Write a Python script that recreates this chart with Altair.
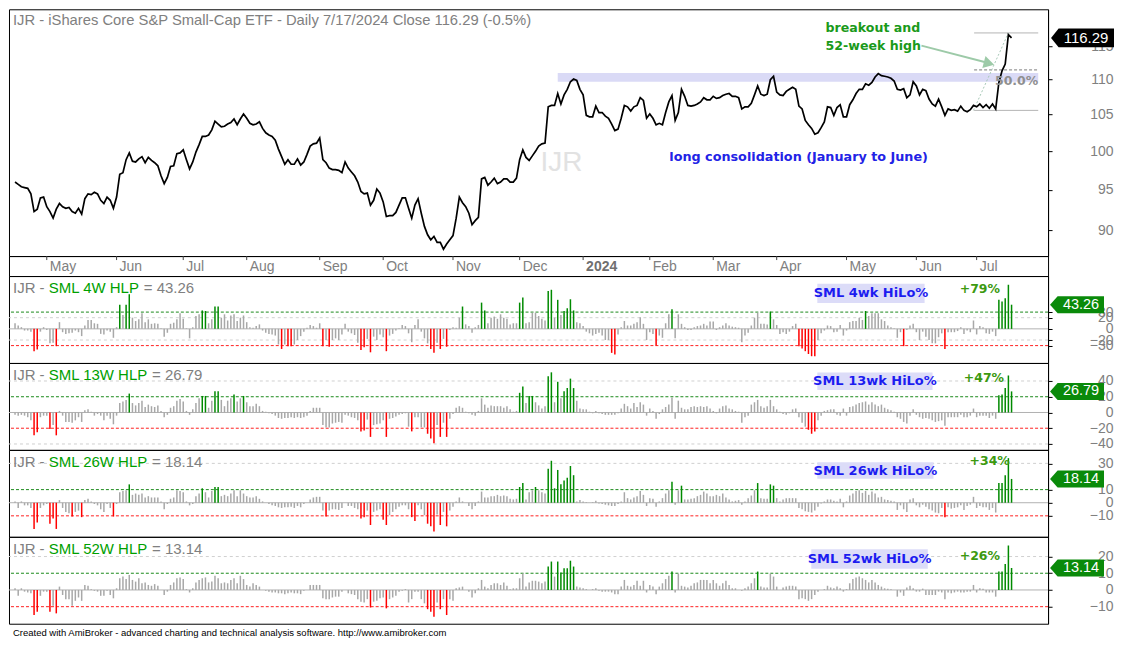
import altair as alt
import pandas as pd

FONT = "Liberation Sans"
BFONT = "DejaVu Sans"
W = 1040
H_PRICE = 247
H_DATE = 20
H_IND = 87
X_DOMAIN = [-1.9, 325.5]

title_text = "IJR - iShares Core S&P Small-Cap ETF - Daily 7/17/2024 Close 116.29 (-0.5%)"
footer_text = "Created with AmiBroker - advanced charting and technical analysis software. http://www.amibroker.com"

# trading-day index of each month start and its label
month_idx = [10, 32, 53, 73, 96, 116, 138, 159, 179, 200, 220, 240, 262, 284, 303]
month_lbl = ["May", "Jun", "Jul", "Aug", "Sep", "Oct", "Nov", "Dec", "2024",
             "Feb", "Mar", "Apr", "May", "Jun", "Jul"]

# daily close, 2023-04-17 .. 2024-07-17 (one line per month)
price = [
    96.0, 95.7, 95.4, 95.3, 95.2, 94.5, 92.3, 92.6, 94.0, 94.1,
    92.9, 92.3, 91.5, 92.6, 93.3, 92.9, 92.7, 92.8, 92.3, 92.1, 92.7, 92.0, 93.9, 94.5, 94.4, 94.7, 94.5, 93.7, 93.3, 94.1, 93.7, 92.7,
    94.1, 97.0, 97.2, 98.9, 99.8, 98.7, 98.6, 99.0, 99.3, 98.5, 99.2, 98.8, 98.5, 98.1, 96.8, 95.8, 96.6, 98.0, 98.1, 99.7, 99.8,
    100.2, 98.9, 97.7, 98.6, 99.9, 100.9, 102.0, 102.0, 102.2, 102.9, 104.1, 103.7, 103.3, 103.4, 103.7, 103.9, 104.4, 103.6, 104.4, 105.1,
    104.5, 103.8, 103.6, 103.7, 104.0, 103.1, 102.5, 102.2, 102.0, 101.5, 100.3, 99.3, 98.3, 98.9, 98.3, 98.3, 99.0, 98.2, 98.6, 99.6, 100.7, 101.0, 101.1,
    101.8, 98.9, 98.5, 97.8, 97.6, 97.6, 97.5, 97.2, 98.6, 97.8, 97.3, 96.8, 96.0, 94.8, 94.5, 94.6, 93.1, 93.7, 95.1, 94.6,
    93.5, 91.7, 91.8, 91.8, 92.2, 93.1, 94.0, 94.0, 92.7, 91.5, 93.1, 93.9, 92.1, 90.5, 89.5, 88.9, 89.3, 88.6, 88.6, 87.8, 88.4, 88.9,
    89.4, 91.5, 94.1, 93.4, 92.9, 92.1, 90.7, 91.2, 91.6, 96.4, 96.6, 95.6, 96.0, 96.5, 95.8, 96.0, 96.4, 96.4, 96.0, 96.0, 96.5,
    98.9, 100.2, 99.2, 98.8, 99.4, 100.0, 100.7, 101.0, 101.1, 106.1, 106.3, 106.3, 108.0, 106.5, 107.8, 108.6, 109.7, 110.1, 109.9, 108.6,
    107.8, 104.9, 104.7, 104.7, 106.2, 105.3, 105.3, 104.8, 104.5, 103.7, 102.8, 103.0, 104.5, 106.3, 106.1, 105.5, 106.1, 106.3, 107.4, 107.0, 104.5,
    105.1, 104.5, 103.6, 103.8, 103.6, 105.3, 106.8, 107.7, 104.2, 105.3, 108.6, 107.6, 106.3, 106.2, 106.3, 106.5, 106.8, 107.4, 107.1, 107.1,
    107.6, 107.3, 107.4, 107.7, 107.9, 108.0, 107.6, 107.6, 107.4, 105.8, 106.1, 106.1, 106.6, 107.8, 109.1, 107.9, 107.7, 107.9, 110.0, 110.5,
    108.2, 107.8, 107.7, 108.3, 108.6, 108.9, 108.6, 106.2, 105.8, 104.2, 103.6, 103.1, 102.3, 102.5, 103.2, 104.0, 106.1, 106.0, 104.9, 106.0, 106.4, 104.7,
    104.7, 106.4, 107.1, 108.0, 108.6, 108.6, 109.4, 109.2, 109.6, 110.4, 110.9, 110.6, 110.5, 110.4, 110.2, 109.8, 108.6, 108.5, 108.7, 107.4, 107.8, 109.7,
    109.1, 107.8, 108.6, 108.4, 107.2, 106.5, 106.2, 107.2, 106.1, 104.9, 105.8, 105.6, 105.7, 105.5, 106.2, 105.6, 105.4, 105.7, 106.3,
    106.1, 106.5, 106.0, 106.4, 105.9, 106.5, 105.8, 109.6, 111.3, 112.3, 116.8, 116.29,
]
price_ticks = [90, 95, 100, 105, 110, 115]
price_domain = [87.0, 120.8]

hlp4 = [
    10, 6, 3, -3, -3, -5, -40, -37, -5, 3,
    -2, -26, -25, -31, 12, -6, -9, -8, -7, -3, -6, -13, 6, 16, 16, 10, 9, -9, -10, -3, -5, -16,
    3, 43, 25, 43, 62, 20, 14, 17, 28, 12, 17, 9, 10, 9, 1, -14, -7, 9, 11, 17, 28,
    18, 1, -17, 3, 23, 26, 33, 32, 10, 17, 40, 40, 20, 26, 15, 24, 26, 14, 20, 24,
    12, 3, 2, 5, 8, -3, -7, -9, -10, -12, -28, -36, -28, -31, -31, -28, -20, -13, -5, 2, 7, 5, 2,
    10, -31, -20, -32, -20, -17, -20, -10, 9, -5, -8, -11, -25, -38, -33, -18, -42, -14, -20, -10,
    -15, -40, -12, -9, -3, 1, 7, 5, -8, -24, 7, 17, -5, -17, -26, -36, -43, -25, -36, -18, -32, -2,
    3, 2, 20, 40, 8, 5, -7, 3, 7, 47, 33, 10, 20, 22, 18, 26, 20, 18, 8, 10, 10,
    47, 56, 10, 12, 29, 29, 23, 18, 15, 68, 70, 20, 52, 25, 32, 37, 53, 33, 12, 10,
    5, -5, -8, -12, -9, -7, -12, -20, -20, -43, -46, -10, 3, 14, 6, 6, 9, 12, 21, 9, -20,
    -6, -9, -30, -12, -16, 10, 26, 35, -17, 26, 9, 3, -2, -2, 3, 5, 6, 9, 6, 13,
    13, -2, 3, 6, 10, 6, 4, 3, 2, -24, -12, -7, 6, 20, 29, 9, 9, 8, 31, 17,
    7, -9, -6, -9, -5, 5, 9, -31, -35, -40, -45, -49, -49, -20, -8, -3, 6, 5, -6, -5, 7, -12,
    -3, 12, 14, 14, 20, 16, 32, 23, 28, 28, 28, 17, 14, 6, 3, 1, -16, -6, -31, -2, 6, 9,
    -6, -20, -5, -14, -20, -26, -26, -15, -8, -36, -6, -6, -6, -4, 3, -9, -3, -6, 15,
    -10, 5, 3, -8, -9, -5, -13, 52, 49, 55, 79, 43.26,
]

hlp13 = [
    -3, -4, -3, -4, -6, -10, -29, -25, -6, -4,
    -4, -21, -16, -29, 2, -4, -12, -12, -13, -10, -6, -12, 3, 4, 1, -4, -2, -4, -10, -4, -8, -15,
    -4, 12, 14, 16, 24, 12, 9, 12, 15, 7, 10, 8, 7, 9, 2, -6, -3, 6, 8, 15, 17,
    14, 2, -3, 4, 12, 18, 21, 21, 6, 15, 27, 27, 16, 8, 15, 18, 23, 14, 18, 21,
    13, 8, 8, 11, 8, 2, 1, -1, -2, -4, -7, -8, -7, -7, -6, -7, -6, -7, -6, -4, 2, 6, 6,
    6, -16, -19, -19, -14, -13, -12, -13, -3, -4, -6, -7, -10, -24, -23, -9, -31, -16, -15, -14,
    -10, -31, -8, -7, -5, -3, -2, -1, -18, -24, -6, -6, -19, -19, -27, -33, -39, -16, -31, -13, -31, -8,
    -2, 6, 8, 6, 1, -1, -3, -4, 2, 18, 10, 6, 9, 8, 8, 8, 6, 8, 4, 1, 2,
    25, 33, 12, 21, 21, 13, 9, 5, 8, 46, 51, 13, 39, 18, 27, 31, 43, 31, 15, 5,
    4, 4, 1, -1, 2, -1, -2, -3, -3, -3, -3, -1, 5, 11, 8, 5, 12, 7, 13, 10, -4,
    5, 2, -8, -2, 4, 7, 10, 19, -8, 15, 6, 4, 4, 7, 8, 7, 8, 7, 8, 5,
    2, -1, 5, 8, 9, 5, 4, 2, 1, -13, -6, -4, 10, 13, 16, 8, 6, 8, 16, 8,
    4, 1, -2, -3, -1, 4, 5, -6, -13, -18, -22, -27, -24, -10, -4, 2, 3, 4, 4, -3, -4, 5,
    -4, 7, 8, 10, 12, 13, 14, 10, 13, 10, 8, 10, 6, 4, 3, 1, -6, -8, -12, -14, -4, 4,
    -3, -6, -8, -7, -8, -10, -12, -11, -10, -17, -6, -6, -6, -6, -3, -6, -6, -4, 5,
    -6, -4, -4, -4, -7, -4, -8, 22, 23, 31, 47, 26.79,
]

hlp26 = [
    1, -4, 1, -2, -2, -4, -20, -15, -4, -2,
    -1, -16, -12, -20, 2, -4, -7, -8, -10.5, -7, -6, -11, 2, 3, 1, -1, -2, -5, -7, -1, -4, -10.5,
    -1, 8, 9, 9.5, 14, 6, 7, 6, 7, 4, 5, 4, 4, 4, 1, -5, -1, 3, 4, 9.5, 9,
    8, 1, -2, -1, 5, 7, 11, 8, 4, 9, 12, 12, 5, 6, 5, 7, 9.5, 5, 9.5, 7,
    5, 4, 4, 5, 3, 1, 0, -1, -2, -2.5, -3.5, -4, -3.5, -3.5, -3, -4, -2.5, -3.5, -1, 0, 2.5, 4, 4.5,
    4.5, -6, -10.5, -6, -5, -5, -5.5, -4, 0, -2.5, -2.5, -4, -5, -12, -11, -6, -17, -7, -6, -5,
    -13, -17, -9.5, -7, -5, -3, -2, -2, -5, -11, -14, -2, -5, -9.5, -16, -18, -22, -9, -17, -7, -18, -6,
    -3, 1, 4, 1, 0, -2.5, -5, -2.5, 1, 8.5, 4, 4, 5, 5, 6, 5, 5.5, 5, 3, 2.5, 3,
    12, 15, 2.5, 8, 9.5, 12, 9.5, 8, 7, 26, 32, 11, 25, 14, 17, 19, 28, 21, 1, 2,
    1, 0.5, 0, 0.5, 1.5, -0.5, -1, -1.5, -2, -2.5, -2.5, -1, 1, 8, 3.5, 2.5, 4, 5, 9, 6, -2.5,
    3.5, 3, -3, 1, 3.5, 7, 9.5, 16, -1.5, 9.5, 13, 2.5, 2.5, 3, 3.5, 5, 6, 8.5, 7, 5,
    5, 6, 5, 7, 4, 2.5, 1, 1.5, 2, -1.5, 1, 3.5, 5.5, 9.5, 15, 3.5, 3, 3, 14, 13,
    3.5, 1, 2.5, 3.5, 3.5, 3.5, 3.5, -4, -5, -6.5, -7, -7.5, -6, -3, -0.5, 1, 2.5, 2.5, 1.5, 1, 3, -3.5,
    1, 5.5, 7, 9, 9.5, 7.5, 9, 6, 8.5, 7, 4, 4.5, 2.5, 2, 1.5, 1, -5.5, -2, -5, -7, 2.5, 3.5,
    -2, -3.5, -1.5, -3, -5, -6, -7.5, -8, -4, -11, -3.5, -4.5, -4, -3.5, -2, -5.5, -2.5, -1.5, 4.5,
    -4, -2.5, -3.5, -3.5, -5.5, -4, -7.5, 15, 15, 21, 34, 18.14,
]

hlp52 = [
    1, -3.5, 1, -1, -1.5, -2, -15, -13, -3.5, -1,
    -1, -13, -9.5, -14, 2, -3, -5.5, -5.5, -9.5, -6.5, -4.5, -6.5, 3, 2.5, 0.5, -0.5, -1, -3.5, -3.5, -0.5, -3, -5,
    1, 7, 8, 6.5, 9, 6, 5, 7, 4, 4.5, 3, 2.5, 3.5, 2.5, 0, -3, -1, 3, 4.5, 7, 7.5,
    6.5, 0.5, -1.5, 1, 4.5, 6, 7, 7.5, 4.5, 5, 8.5, 7, 4, 4.5, 4, 6, 7, 4, 8.5, 6.5,
    3, 2, 4, 3, 2, 0, -0.5, -1, -1.5, -1.5, -2, -2, -2.5, -2, -1.5, -2, -2, -2.5, -0.5, 0, 3, 3, 3,
    3, -5, -5.5, -5.5, -4.5, -4, -4, -1, 0, -2, -2.5, -3, -5.5, -7, -7.5, -5.5, -10.5, -7, -6.5, -5,
    -4.5, -11, -5.5, -4.5, -3.5, -1, -0.5, 0.5, -7.5, -5.5, -1, -1, -5.5, -8, -11.5, -13, -16, -7.5, -11.5, -5.5, -15, -5.5,
    -6.5, 1, 1.5, 2, 0, -1, -4.5, -2, 1, 6, 2, 1, 3, 4, 4, 3, 4.5, 2.5, 0.5, 1, 1,
    7, 9.8, 2, 4.5, 5.5, 5.5, 5, 4, 5, 14, 17, 8, 17, 10.5, 13, 13, 17.5, 14, 2, 1.5,
    1, 0.5, 0, 0.5, 1, -0.5, -1, -1, -1, -1.5, -2.5, -2.5, 2, 6, 2.5, 2, 3, 5.5, 2.5, 5.5, -1.5,
    3, 2, -2.5, 2, 4, 6.5, 8.5, 11, -1.5, 9.8, 2.5, 2, 1.5, 2.5, 4, 4.5, 6, 6, 6, 4,
    6, 4, 2.5, 4, 5.5, 3, 1, 1, 0, -0.5, 1, 2, 4, 7, 11, 2, 1.5, 1.5, 9.8, 8,
    2, 0, 1.5, 2, 2.5, 2.5, 2, -5.5, -5, -5.5, -6.5, -5.5, -3, -1, 0, 0.5, 2.5, 1.5, 1, 2, 1, -1,
    0.5, 4, 6.5, 7.5, 8, 7, 6, 4.5, 6, 4.5, 3, 2, 1, 0.8, 0.5, 0, -4, -1.5, -3.5, 1.5, 2.5, 1,
    -1, -1, 0.8, -3, -3, -3, -3, -1, -1.5, -5.5, -1.5, -2, -1.5, -1, -1.5, -1.5, -1, -1, 3,
    -1.5, 1, 0.8, -1.5, -1.5, -1.5, -4, 11, 11, 15.6, 26.6, 13.14,
]

GRAY_TXT = "#808080"
xscale = alt.Scale(domain=X_DOMAIN, nice=False, zero=False)


def X(field="i"):
    return alt.X(f"{field}:Q", scale=xscale, axis=None)


def right_axis(values):
    return alt.Axis(orient="right", values=values, title=None, grid=False,
                    domain=True, domainColor="#000000", domainWidth=1,
                    ticks=True, tickColor="#000000", tickSize=4, tickWidth=1,
                    labelAlign="right", labelBaseline="middle", labelPadding=61,
                    labelFont=FONT, labelFontSize=14, labelColor=GRAY_TXT,
                    labelOverlap=False, labelFlush=False, labelBound=False, format="d")


# ---------------- price panel ----------------
pscale = alt.Scale(type="log", domain=price_domain, nice=False, zero=False)
paxis = right_axis(price_ticks)


def PY(field):
    return alt.Y(f"{field}:Q", scale=pscale, axis=paxis)


price_df = pd.DataFrame({"i": list(range(len(price))), "p": price})

band = alt.Chart(pd.DataFrame({"x1": [171], "x2": [322.4], "y1": [109.7], "y2": [111.0]})).mark_rect(
    color="#dadaf6").encode(x=X("x1"), x2="x2", y=PY("y1"), y2="y2")

wm = alt.Chart(pd.DataFrame({"i": [165.6], "p": [98.5], "t": ["IJR"]})).mark_text(
    align="left", baseline="middle", fontSize=28, font=FONT, color="#e2e2e2").encode(
    x=X(), y=PY("p"), text="t:N")

fib_df = pd.DataFrame({"x1": [302.2, 302.2], "x2": [322.4, 322.4], "p": [117.06, 105.6]})
fib_solid = alt.Chart(fib_df).mark_rule(color="#b4b4b4", strokeWidth=1).encode(
    x=X("x1"), x2="x2", y=PY("p"))
fib_dash = alt.Chart(pd.DataFrame({"x1": [302.2], "x2": [322.4], "p": [111.44]})).mark_rule(
    color="#7a7a7a", strokeWidth=1, strokeDash=[3, 2]).encode(x=X("x1"), x2="x2", y=PY("p"))
diag = alt.Chart(pd.DataFrame({"x1": [302], "x2": [313], "p1": [105.6], "p2": [117.06]})).mark_rule(
    color="#a6c8b6", strokeWidth=1, strokeDash=[2, 2]).encode(x=X("x1"), x2="x2", y=PY("p1"), y2="p2")

line = alt.Chart(price_df).mark_line(color="#000000", strokeWidth=1.7).encode(x=X(), y=PY("p"))

ARROW = "#9dcaa8"
arrow = alt.Chart(pd.DataFrame({"x1": [285.6], "x2": [306.4], "p1": [115.1], "p2": [112.5]})).mark_rule(
    color=ARROW, strokeWidth=2).encode(x=X("x1"), x2="x2", y=PY("p1"), y2="p2")
head = alt.Chart(pd.DataFrame({"i": [306.9], "p": [112.42]})).mark_point(
    shape="triangle-right", angle=15, size=150, filled=True, color=ARROW, opacity=1).encode(
    x=X(), y=PY("p"))

ann = alt.Chart(pd.DataFrame({"i": [255.4, 255.4], "p": [117.87, 114.99],
                              "t": ["breakout and", "52-week high"]})).mark_text(
    align="left", baseline="middle", font=BFONT, fontSize=12.6, fontWeight="bold", color="#1a9a1a").encode(
    x=X(), y=PY("p"), text="t:N")
cons = alt.Chart(pd.DataFrame({"i": [246.9], "p": [99.2], "t": ["long consolidation (January to June)"]})).mark_text(
    align="center", baseline="middle", font=BFONT, fontSize=12.8, fontWeight="bold", color="#2222e6").encode(
    x=X(), y=PY("p"), text="t:N")
pct50 = alt.Chart(pd.DataFrame({"i": [322.4], "p": [109.86], "t": ["50.0%"]})).mark_text(
    align="right", baseline="middle", font=BFONT, fontSize=12.5, fontWeight="bold", color="#8f8f8f").encode(
    x=X(), y=PY("p"), text="t:N")
ptitle = alt.Chart(pd.DataFrame({"t": [title_text]})).mark_text(
    align="left", baseline="middle", font=FONT, fontSize=14.8, color=GRAY_TXT).encode(
    x=alt.value(4), y=alt.value(12), text="t:N")

PRICE_TAG = "M-1,0L-0.76,-0.3L1,-0.3L1,0.3L-0.76,0.3Z"
tag_df = pd.DataFrame({"p": [116.29], "t": ["116.29"]})
ptag = alt.Chart(tag_df).mark_point(shape=PRICE_TAG, size=3969, filled=True, color="#000000",
                                    opacity=1, strokeWidth=0).encode(x=alt.value(W + 34.5), y=PY("p"))
ptag_t = alt.Chart(tag_df).mark_text(align="center", baseline="middle", font=FONT, fontSize=15,
                                     color="#ffffff").encode(x=alt.value(W + 38), y=PY("p"), text="t:N")

price_chart = alt.layer(band, wm, fib_solid, fib_dash, diag, line, arrow, head, ann, cons, pct50,
                        ptitle, ptag, ptag_t).properties(width=W, height=H_PRICE)

# ---------------- date band ----------------
mdf = pd.DataFrame({"i": month_idx, "lbl": month_lbl})
mticks = alt.Chart(mdf).mark_rule(color="#404040").encode(x=X(), y=alt.value(0), y2=alt.value(4))
mlabels = alt.Chart(mdf).transform_filter("datum.lbl != '2024'").mark_text(
    align="left", baseline="middle", dx=3, font=FONT, fontSize=14, color=GRAY_TXT).encode(
    x=X(), y=alt.value(10.5), text="lbl:N")
mlabels24 = alt.Chart(mdf).transform_filter("datum.lbl == '2024'").mark_text(
    align="left", baseline="middle", dx=3, font=FONT, fontSize=14, fontWeight="bold", color="#707070").encode(
    x=X(), y=alt.value(10.5), text="lbl:N")
date_chart = alt.layer(mticks, mlabels, mlabels24).properties(width=W, height=H_DATE)

# ---------------- indicator panels ----------------
IND_TAG = "M-1,0L-0.72,-0.315L1,-0.315L1,0.315L-0.72,0.315Z"


def indicator(vals, thr, gray_lines, ticks, domain, name, name_w, box, box_lbl,
              plus_pos, plus_lbl, last_lbl, footer=False):
    df = pd.DataFrame({"i": list(range(len(vals))), "v": vals})
    df["z"] = 0.0
    df["zone"] = ["g" if v >= thr else ("r" if v <= -thr else "n") for v in vals]
    ys = alt.Scale(domain=domain, nice=False, zero=False)
    ax = right_axis(ticks)

    def Y(f):
        return alt.Y(f"{f}:Q", scale=ys, axis=ax)

    layers = []
    layers.append(alt.Chart(pd.DataFrame({"v": gray_lines})).mark_rule(
        color="#d0d0d0", strokeDash=[3, 3], strokeWidth=1).encode(y=Y("v")))
    layers.append(alt.Chart(pd.DataFrame({"v": [thr]})).mark_rule(
        color="#1b8a1b", strokeDash=[3, 2], strokeWidth=1).encode(y=Y("v")))
    layers.append(alt.Chart(pd.DataFrame({"v": [-thr]})).mark_rule(
        color="#ff2020", strokeDash=[3, 2], strokeWidth=1).encode(y=Y("v")))
    layers.append(alt.Chart(pd.DataFrame({"v": [0]})).mark_rule(
        color="#b2b2b2", strokeWidth=1).encode(y=Y("v")))
    layers.append(alt.Chart(df).mark_rule(strokeWidth=1.5).encode(
        x=X(), y=Y("v"), y2="z",
        color=alt.Color("zone:N", scale=alt.Scale(domain=["g", "r", "n"],
                                                  range=["#008a00", "#ff0000", "#a8a8a8"]),
                        legend=None)))
    # title pieces
    x2 = 4 + 35.8
    x3 = x2 + name_w + 4.2
    parts = pd.DataFrame({"x": [4, x2, x3], "t": ["IJR -", name, "= " + last_lbl],
                          "c": ["a", "b", "c"]})
    for k, col in (("a", GRAY_TXT), ("b", "#00a000"), ("c", GRAY_TXT)):
        row = parts[parts.c == k]
        layers.append(alt.Chart(row).mark_text(
            align="left", baseline="middle", font=FONT, fontSize=15, color=col).encode(
            x=alt.value(float(row.x.iloc[0])), y=alt.value(12), text="t:N"))
    # label box
    bx = pd.DataFrame({"x1": [box[0]], "x2": [box[1]], "y1": [box[2]], "y2": [box[3]],
                       "cx": [(box[0] + box[1]) / 2], "cy": [(box[2] + box[3]) / 2], "t": [box_lbl]})
    layers.append(alt.Chart(bx).mark_rect(color="#dcdcf8").encode(
        x=X("x1"), x2="x2", y=Y("y1"), y2="y2"))
    layers.append(alt.Chart(bx).mark_text(
        align="center", baseline="middle", font=BFONT, fontSize=13, fontWeight="bold",
        color="#1c1cf0").encode(x=X("cx"), y=Y("cy"), text="t:N"))
    layers.append(alt.Chart(pd.DataFrame({"i": [plus_pos[0]], "v": [plus_pos[1]], "t": [plus_lbl]})).mark_text(
        align="center", baseline="middle", font=BFONT, fontSize=12.5, fontWeight="bold",
        color="#3c9a10").encode(x=X(), y=Y("v"), text="t:N"))
    tdf = pd.DataFrame({"v": [vals[-1]], "t": [last_lbl]})
    layers.append(alt.Chart(tdf).mark_point(shape=IND_TAG, size=2916, filled=True, color="#0a8a0a",
                                            opacity=1, strokeWidth=0).encode(x=alt.value(W + 29), y=Y("v")))
    layers.append(alt.Chart(tdf).mark_text(align="center", baseline="middle", font=FONT, fontSize=14.5,
                                           color="#ffffff").encode(x=alt.value(W + 33), y=Y("v"), text="t:N"))
    if footer:
        layers.append(alt.Chart(pd.DataFrame({"t": [footer_text]})).mark_text(
            align="left", baseline="middle", font=FONT, fontSize=9.5, color="#000000").encode(
            x=alt.value(4), y=alt.value(H_IND + 9), text="t:N"))
    return alt.layer(*layers).properties(width=W, height=H_IND)


c4 = indicator(hlp4, 30, [20, -20], [30, 20, 0, -20, -30], [-61.1, 94.6], "SML 4W HLP", 90.9,
               (252.8, 286.6, 80.8, 46.2), "SML 4wk HiLo%", (304.0, 72.1), "+79%", "43.26")
c13 = indicator(hlp13, 20, [40, -40], [40, 20, 0, -20, -40], [-47.5, 62.9], "SML 13W HLP", 99.2,
                (252.8, 289.1, 50.7, 28.6), "SML 13wk HiLo%", (305.3, 43.3), "+47%", "26.79")
c26 = indicator(hlp26, 10, [30], [30, 10, 0, -10], [-26.0, 40.3], "SML 26W HLP", 99.2,
                (252.8, 289.4, 30.8, 18.2), "SML 26wk HiLo%", (307.1, 32.2), "+34%", "18.14")
c52 = indicator(hlp52, 10, [20], [20, 10, 0, -10], [-20.2, 31.8], "SML 52W HLP", 99.2,
                (250.9, 287.6, 24.3, 12.7), "SML 52wk HiLo%", (304.0, 20.2), "+26%", "13.14",
                footer=True)

chart = alt.vconcat(price_chart, date_chart, c4, c13, c26, c52, spacing=0, bounds="flush").properties(
    padding=0).configure_view(stroke="#000000", strokeWidth=1)

chart.save("out.html", embed_options={"renderer": "svg", "actions": False})
